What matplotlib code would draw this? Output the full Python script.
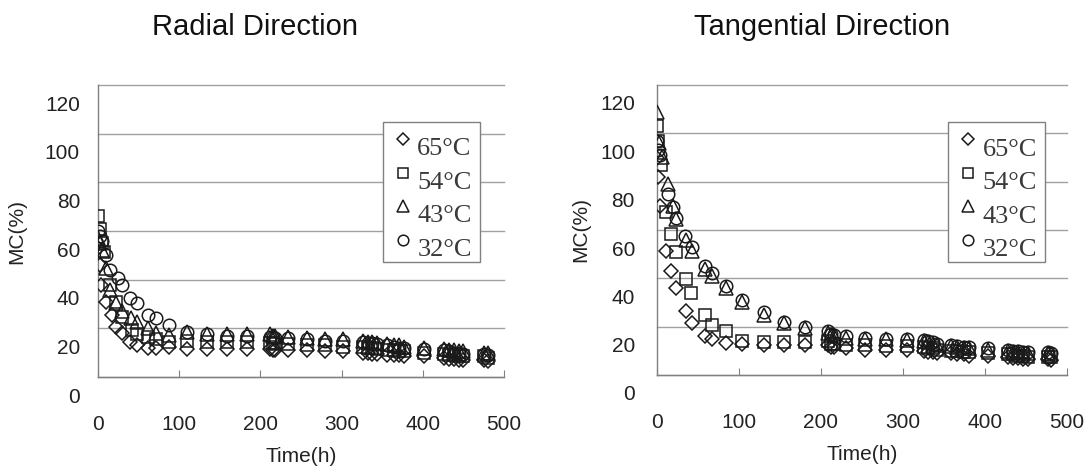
import matplotlib
matplotlib.use("Agg")
import matplotlib.pyplot as plt
import matplotlib.transforms as mtransforms

# ---------------- data ----------------
series_labels = ["65°C", "54°C", "43°C", "32°C"]
markers = ["D", "s", "^", "o"]

rad_late_t = [110, 134, 159, 184, 212, 215, 218, 234, 258, 280, 302, 326, 332, 338,
              344, 356, 364, 371, 377, 401, 426, 432, 438, 444, 450, 475, 480]

rad65_t = [0, 2, 4, 10, 17, 22, 29, 40, 48, 62, 72, 88] + rad_late_t
rad65_v = [53, 46, 38, 31, 25.5, 20.7, 17.9, 14.5, 13.2, 12, 12, 12.5,
           11.5, 11.5, 11.5, 11.5, 11.5, 11, 11, 11, 11, 10.5, 10.5, 10, 10, 9.5, 9.5,
           9, 9, 9, 8.5, 8.5, 8, 7.5, 7.5, 7, 7, 7, 6.5]
rad54_t = [0, 2, 5, 7, 15, 22, 29, 42, 48, 62, 72, 88] + rad_late_t
rad54_v = [66, 61, 55, 51.5, 38, 31, 24.8, 19.3, 17.5, 16.6, 15.6, 14.5,
           15, 14.5, 14.5, 14.5, 14, 14, 13.5, 13.5, 13, 13, 12.5, 12.5, 12, 12, 11.5,
           11, 11, 10.5, 10.5, 10, 9.5, 9, 9, 8.5, 8.5, 8.5, 8]
rad43_t = [0, 2, 5, 10, 15, 22, 29, 41, 48, 62, 72, 88] + rad_late_t
rad43_v = [57, 55, 52, 45, 35.7, 30.4, 27, 24.2, 22.7, 20, 18, 17.3,
           18.6, 17.5, 17.5, 17.5, 17.5, 17, 17, 16.5, 16, 15.5, 15.5, 15, 14.5, 14.5, 14,
           13.5, 13, 13, 12.5, 12, 11.5, 11, 11, 10.5, 10.5, 10, 10]
rad32_t = [0, 2, 5, 10, 15, 25, 29, 40, 48, 62, 72, 88] + rad_late_t
rad32_v = [60, 58, 56, 50, 44, 40.6, 37.8, 32.4, 30.4, 25.5, 24.2, 21.4,
           18.6, 17.5, 17, 17, 16.5, 16.5, 16, 16, 15.5, 15, 15, 14.5, 14, 14, 13.5,
           13, 12.5, 12, 12, 11.5, 11, 10.5, 10, 10, 9.5, 9.5, 9]

tan_late_t = [104, 130, 155, 180, 208, 212, 216, 231, 254, 279, 305, 325, 331, 337,
              342, 358, 366, 374, 381, 404, 428, 434, 440, 446, 452, 477, 481]

tan65_t = [0, 1, 4, 11, 17, 23, 35, 43, 59, 67, 84] + tan_late_t
tan65_v = [89.6, 82, 70, 51.4, 43, 36, 26.4, 21.6, 16, 15, 13.3,
           13, 12.5, 12.5, 12.5, 12.5, 11.5, 11.5, 11, 10.5, 10.5, 10.5, 10, 9.5, 9.5,
           9, 9, 8.5, 8.5, 8, 8, 7.5, 7, 7, 6.5, 6.5, 6.5, 6]
tan54_t = [0, 1, 5, 11, 17, 23, 35, 41, 59, 67, 84] + tan_late_t
tan54_v = [103, 97, 87, 67.5, 58.3, 50.8, 39.6, 34, 25, 20.8, 18,
           13.9, 13.5, 13.5, 13.5, 14, 13, 13, 12.5, 12.5, 12, 12, 11.5, 11, 11,
           10.5, 10, 10, 9.5, 9.5, 9, 8.5, 8.5, 8, 8, 7.5, 7.5, 7.5]
tan43_t = [0, 2, 6, 13, 19, 23, 35, 43, 59, 67, 84] + tan_late_t
tan43_v = [109, 96, 90, 79, 70, 64.6, 56, 51.4, 43.7, 41, 36,
           30, 25, 21.5, 19.6, 17.5, 16.5, 16, 15.5, 15, 15, 14.5, 14, 13.5, 13,
           12.5, 12, 11.5, 11, 11, 10.5, 10, 9.5, 9.5, 9, 9, 9, 8.5]
tan32_t = [0, 1, 4, 13, 20, 23, 34, 43, 59, 67, 84] + tan_late_t
tan32_v = [97, 93, 91, 75, 69.5, 65, 57.6, 53, 45, 42, 37,
           31, 26, 22, 20, 18, 17, 16.5, 16, 15.5, 15, 15, 14.5, 14, 13.5,
           13, 12.5, 12, 11.5, 11.5, 11, 10.5, 10, 10, 9.5, 9.5, 9.5, 9]

x_ticks = [0, 100, 200, 300, 400, 500]
y_ticks = [0, 20, 40, 60, 80, 100, 120]
titles = ["Radial Direction", "Tangential Direction"]

# ---------------- figure ----------------
plt.rcParams['font.family'] = ['Liberation Sans', 'DejaVu Sans']
fig = plt.figure(figsize=(10.88, 4.69), dpi=100)
W, H = 1088, 469

def make_axes(left_px, right_px, top_px, bottom_px):
    return fig.add_axes([left_px / W, 1 - bottom_px / H,
                         (right_px - left_px) / W, (bottom_px - top_px) / H])

ax1 = make_axes(98, 504, 85, 377)
ax2 = make_axes(657, 1067, 85, 375)

panels = [
    (ax1, [(rad65_t, rad65_v), (rad54_t, rad54_v), (rad43_t, rad43_v), (rad32_t, rad32_v)],
     titles[0], (0.702, 0.873), 72, 18),
    (ax2, [(tan65_t, tan65_v), (tan54_t, tan54_v), (tan43_t, tan43_v), (tan32_t, tan32_v)],
     titles[1], (0.71, 0.872), 67, 22),
]

grid_col = "#a0a0a0"
for ax, data, title, leg_anchor, ylab_off, tick_gap in panels:
    handles = []
    for (t, v), mk, lab in zip(data, markers, series_labels):
        ms = 7.5 if mk == "D" else (9.5 if mk == "^" else 9)
        h, = ax.plot(t, v, linestyle="none", marker=mk, ms=ms, mfc="none",
                     mec="#1a1a1a", mew=1.1, label=lab, zorder=3)
        handles.append(h)
    ax.set_xlim(0, 500)
    ax.set_ylim(0, 120)
    ax.set_yticks(y_ticks)
    ax.set_xticks(x_ticks)
    ax.yaxis.grid(True, color=grid_col, lw=1.0)
    for gl in ax.get_ygridlines():
        gl.set_clip_on(False)
    ax.set_axisbelow(True)
    for s in ["top", "right"]:
        ax.spines[s].set_visible(False)
    for s in ["left", "bottom"]:
        ax.spines[s].set_color("#808080")
        ax.spines[s].set_linewidth(1.0)
    ax.tick_params(axis="x", direction="in", length=5, color="#808080",
                   pad=27, labelsize=15, labelcolor="#222222")
    ax.tick_params(axis="y", length=0, labelleft=False)
    # y tick labels (drawn slightly below their gridlines, as in the original)
    off = mtransforms.ScaledTranslation(-tick_gap / 100, -20 / 100, fig.dpi_scale_trans)
    for yv in y_ticks:
        ax.text(0, yv, str(yv), transform=ax.get_yaxis_transform() + off,
                ha="right", va="center", fontsize=15, color="#222222")
    ax.set_xlabel("Time(h)", fontsize=15, color="#222222", labelpad=10)
    ax.set_ylabel("MC(%)", fontsize=15, color="#222222")
    ax.yaxis.set_label_coords(-ylab_off / (ax.get_position().width * W), 0.5)
    leg = ax.legend(handles=handles, loc="upper left", bbox_to_anchor=leg_anchor,
                    prop={"family": "Liberation Serif", "size": 19},
                    frameon=True, fancybox=False, framealpha=1, edgecolor="#808080",
                    borderpad=0.3, labelspacing=0.38, handletextpad=0.1,
                    handlelength=0.9, borderaxespad=0, markerscale=0.85)
    leg.get_frame().set_linewidth(1.0)
    toff = mtransforms.ScaledTranslation(0, -7 / 100, fig.dpi_scale_trans)
    for txt in leg.get_texts():
        txt.set_color("#3a3a3a")
        txt.set_transform(txt.get_transform() + toff)

fig.text(255 / W, 1 - 27 / H, titles[0], ha="center", va="center", fontsize=21, color="#111111")
fig.text(822 / W, 1 - 27 / H, titles[1], ha="center", va="center", fontsize=21, color="#111111")

fig.savefig("out.png", dpi=100)
